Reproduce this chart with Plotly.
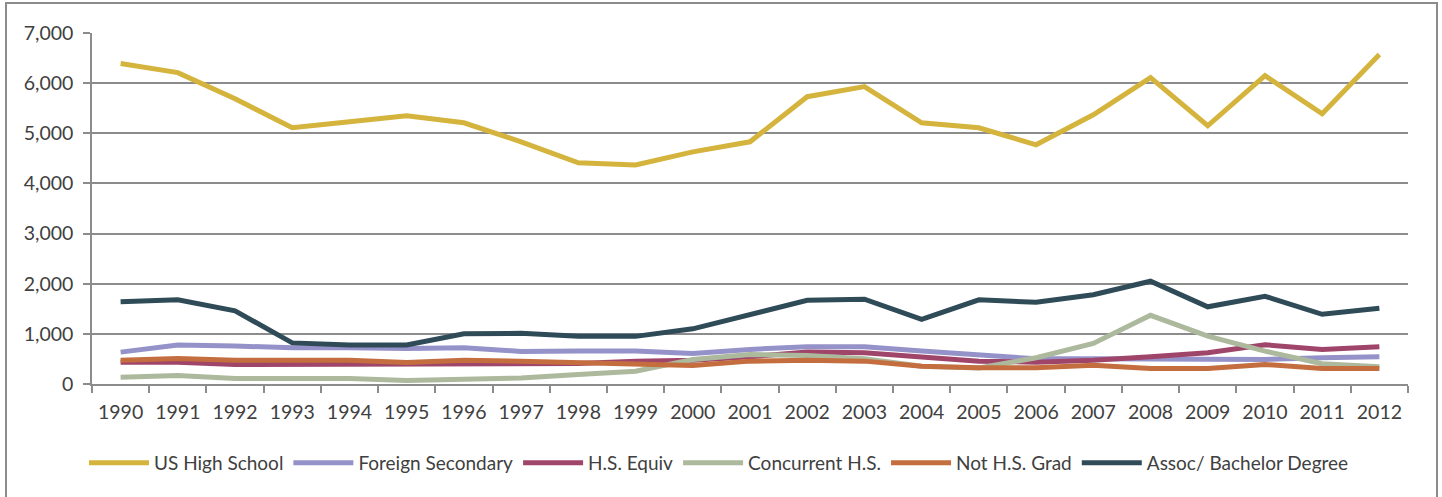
import plotly.graph_objects as go

years = [str(y) for y in range(1990, 2013)]

us_high_school = [6390, 6210, 5690, 5110, 5230, 5350, 5210, 4830, 4410, 4370, 4630, 4830,
                  5730, 5930, 5210, 5110, 4770, 5370, 6110, 5150, 6150, 5390, 6570]
foreign_secondary = [636, 776, 756, 724, 724, 710, 724, 650, 656, 656, 610, 690,
                     744, 744, 656, 590, 503, 503, 503, 490, 490, 523, 543]
hs_equiv = [436, 436, 390, 390, 395, 400, 395, 410, 410, 456, 476, 543,
            636, 623, 543, 456, 436, 476, 543, 623, 783, 690, 743]
concurrent_hs = [136, 170, 110, 110, 110, 70, 90, 120, 190, 256, 490, 590,
                 570, 503, 356, 320, 523, 810, 1370, 956, 656, 403, 343]
not_hs_grad = [476, 510, 476, 476, 476, 430, 476, 456, 423, 390, 370, 456,
               476, 456, 356, 323, 323, 376, 310, 310, 390, 310, 309]
assoc_bachelor = [1640, 1680, 1460, 820, 780, 780, 1000, 1010, 950, 950, 1100, 1380,
                  1670, 1690, 1290, 1680, 1630, 1780, 2050, 1540, 1750, 1390, 1510]

series = [
    ("US High School", us_high_school, "#D4B43C"),
    ("Foreign Secondary", foreign_secondary, "#9592C9"),
    ("H.S. Equiv", hs_equiv, "#A0456A"),
    ("Concurrent H.S.", concurrent_hs, "#ACB99C"),
    ("Not H.S. Grad", not_hs_grad, "#C46E3F"),
    ("Assoc/ Bachelor Degree", assoc_bachelor, "#2F4B58"),
]

fig = go.Figure()
for name, vals, color in series:
    fig.add_trace(go.Scatter(
        x=years, y=vals, name=name, mode="lines",
        line=dict(color=color, width=5, shape="linear"),
    ))

font_family = "Lato, 'Open Sans', sans-serif"
grid_color = "#8C8C8C"
txt_color = "#404040"
tick_fs = 19.5
leg_fs = 19

W, H = 1442, 497
fig.update_layout(
    width=W, height=H,
    margin=dict(l=92, r=34, t=33, b=113),
    paper_bgcolor="white", plot_bgcolor="white",
    font=dict(family=font_family, size=leg_fs, color=txt_color),
    showlegend=True,
    legend=dict(
        orientation="h",
        xref="container", x=84 / W, xanchor="left",
        yref="container", y=(H - 444) / H, yanchor="top",
        font=dict(size=leg_fs, color=txt_color),
        itemwidth=60, traceorder="normal",
    ),
    xaxis=dict(
        type="category", tickson="boundaries", ticks="outside", ticklen=7,
        tickcolor=grid_color, tickwidth=1.5,
        showline=True, linecolor=grid_color, linewidth=1.5,
        showgrid=False, tickfont=dict(size=tick_fs, color=txt_color),
        range=[-0.5, len(years) - 0.5], ticklabelstandoff=10,
        automargin=False,
    ),
    yaxis=dict(
        range=[0, 7000], dtick=1000, tickformat=",",
        showgrid=True, gridcolor=grid_color, gridwidth=1.5,
        ticks="outside", ticklen=7, tickcolor=grid_color, tickwidth=1.5,
        showline=True, linecolor=grid_color, linewidth=1.5,
        zeroline=False, tickfont=dict(size=tick_fs, color=txt_color),
        ticklabelstandoff=6, automargin=False,
    ),
)

# outer chart border
pw, ph = W - 92 - 34, H - 33 - 113
fig.add_shape(
    type="rect", xref="paper", yref="paper",
    x0=(6 - 92) / pw, x1=(1437 - 92) / pw,
    y0=(384 - 502) / ph, y1=(384 - 3) / ph,
    line=dict(color="#8C8C8C", width=2), fillcolor="rgba(0,0,0,0)", layer="below",
)

fig.write_html(
    "out.html",
    config={"displayModeBar": False},
    post_script="document.body.style.margin='0';document.body.style.overflow='hidden';",
)
